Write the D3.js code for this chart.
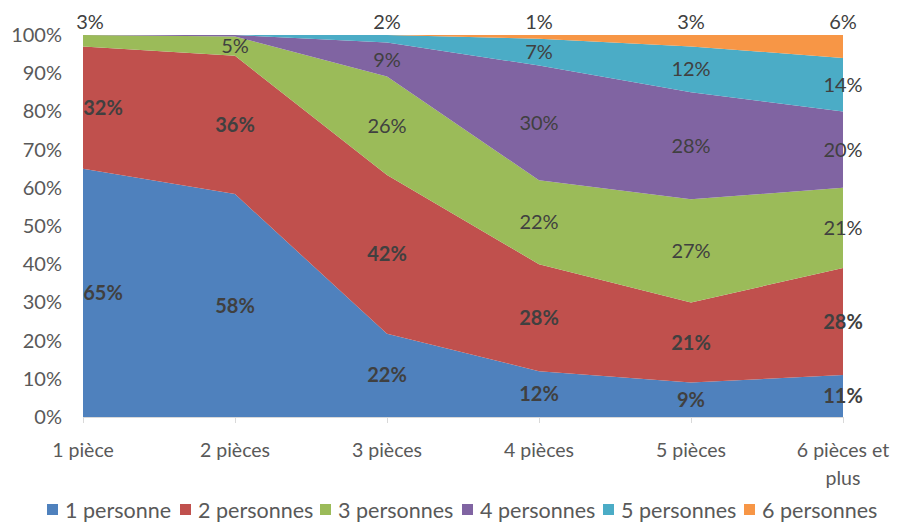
<!DOCTYPE html>
<html>
<head>
<meta charset="utf-8">
<script src="https://cdn.jsdelivr.net/npm/d3@7"></script>
<style>
  html, body { margin: 0; padding: 0; background: #fff; }
  svg { display: block; font-family: Lato, "Open Sans", sans-serif; }
</style>
</head>
<body>
<svg id="chart" width="909" height="524"></svg>
<script>
// Répartition des ménages selon le nombre de pièces du logement
const categories = ["1 pièce", "2 pièces", "3 pièces", "4 pièces", "5 pièces", "6 pièces et plus"];
const seriesNames = ["1 personne", "2 personnes", "3 personnes", "4 personnes", "5 personnes", "6 personnes"];
const p1 = [65, 58, 22, 12, 9, 11];
const p2 = [32, 36, 42, 28, 21, 28];
const p3 = [3, 5, 26, 22, 27, 21];
const p4 = [0, 0.4, 9, 30, 28, 20];
const p5 = [0, 0, 2, 7, 12, 14];
const p6 = [0, 0, 0, 1, 3, 6];
const yTicks = [0, 0.1, 0.2, 0.3, 0.4, 0.5, 0.6, 0.7, 0.8, 0.9, 1];

const colors = ["#4F81BD", "#C0504D", "#9BBB59", "#8064A2", "#4BACC6", "#F79646"];
const boldSeries = new Set(["1 personne", "2 personnes"]);

const seriesValues = [p1, p2, p3, p4, p5, p6];
const rows = categories.map((c, i) => {
  const r = { cat: c };
  seriesNames.forEach((s, k) => { r[s] = seriesValues[k][i]; });
  return r;
});

const svg = d3.select("#chart");
const margin = { left: 83, right: 66, top: 35, bottom: 107 };
const W = 909, H = 524;

const x = d3.scalePoint().domain(categories).range([margin.left, W - margin.right]);
const y = d3.scaleLinear().domain([0, 1]).range([H - margin.bottom, margin.top]);

const stack = d3.stack().keys(seriesNames).offset(d3.stackOffsetExpand);
const layers = stack(rows);

const area = d3.area()
  .x(d => x(d.data.cat))
  .y0(d => y(d[0]))
  .y1(d => y(d[1]));

svg.append("g").selectAll("path")
  .data(layers)
  .join("path")
  .attr("d", area)
  .attr("fill", (d, i) => colors[i]);

// Axe des abscisses
const xAxis = svg.append("g")
  .attr("transform", `translate(0,${y(0)})`)
  .call(d3.axisBottom(x).tickSize(6).tickFormat(""));
xAxis.select(".domain").attr("stroke", "#D9D9D9").attr("d", `M${margin.left},0.5V0.5H${W - margin.right}`);
xAxis.selectAll(".tick line").attr("stroke", "#D9D9D9");

// Libellés des catégories (retour à la ligne pour « 6 pièces et plus »)
const catLines = c => c === "6 pièces et plus" ? ["6 pièces et", "plus"] : [c];
svg.append("g").selectAll("text")
  .data(categories)
  .join("text")
  .attr("x", d => x(d))
  .attr("y", y(0) + 40)
  .attr("text-anchor", "middle")
  .attr("fill", "#595959")
  .attr("font-size", 19.5)
  .each(function (d) {
    d3.select(this).selectAll("tspan")
      .data(catLines(d))
      .join("tspan")
      .attr("x", x(d))
      .attr("dy", (t, i) => i === 0 ? 0 : 28)
      .text(t => t);
  });

// Axe des ordonnées
const yAxis = svg.append("g")
  .attr("transform", `translate(${margin.left},0)`)
  .call(d3.axisLeft(y).tickValues(yTicks).tickSize(0).tickPadding(21).tickFormat(d3.format(".0%")));
yAxis.select(".domain").remove();
yAxis.selectAll("text")
  .attr("fill", "#595959")
  .attr("font-size", 20)
  .attr("font-family", "Lato, 'Open Sans', sans-serif");

// Étiquettes de données
const labels = [];
categories.forEach((c, i) => {
  let lastNonZero = -1;
  layers.forEach((L, k) => { if (seriesValues[k][i] > 0) lastNonZero = k; });
  layers.forEach((L, k) => {
    const v = seriesValues[k][i];
    if (Math.round(v) < 1) return;
    const d = L[i];
    const above = k === lastNonZero;
    let lx = x(c);
    if (i === 0) lx += above ? 7 : 20;
    const ly = above ? margin.top - 13 : y((d[0] + d[1]) / 2);
    labels.push({ text: Math.round(v) + "%", x: lx, y: ly, bold: boldSeries.has(seriesNames[k]) });
  });
});

svg.append("g").selectAll("text")
  .data(labels)
  .join("text")
  .attr("x", d => d.x)
  .attr("y", d => d.y)
  .attr("dy", "0.35em")
  .attr("text-anchor", "middle")
  .attr("font-size", 20)
  .attr("font-weight", d => d.bold ? "bold" : "normal")
  .attr("fill", "#404040")
  .text(d => d.text);

// Légende
const legendX = [47, 180, 320, 462, 603, 744];
const legend = svg.append("g").selectAll("g")
  .data(seriesNames)
  .join("g")
  .attr("transform", (d, i) => `translate(${legendX[i]},${H - 14})`);
legend.append("rect")
  .attr("x", 0).attr("y", -6)
  .attr("width", 11).attr("height", 11)
  .attr("fill", (d, i) => colors[i]);
legend.append("text")
  .attr("x", 18).attr("y", 0)
  .attr("dy", "0.35em")
  .attr("font-size", 21.5)
  .attr("fill", "#595959")
  .text(d => d);
</script>
</body>
</html>
